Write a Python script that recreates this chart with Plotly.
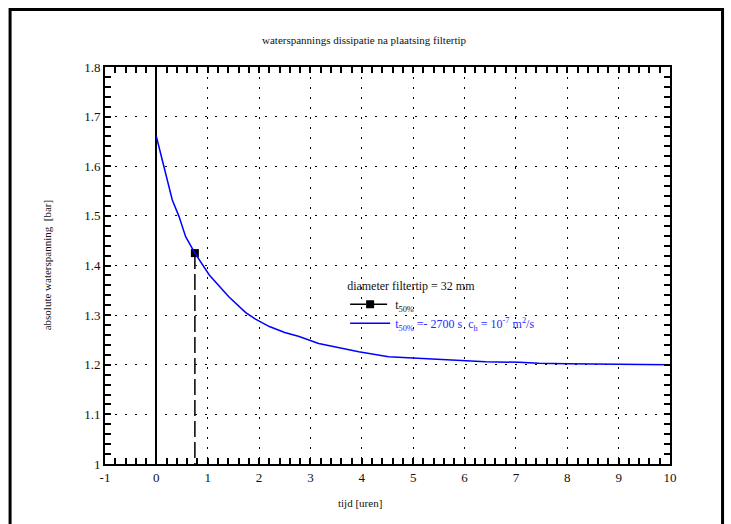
import plotly.graph_objects as go

# ---- data ----
t_hours = [0, 0.15, 0.31, 0.44, 0.57, 0.75, 1.03, 1.41, 1.74, 1.93, 2.2, 2.5, 2.78,
           3.16, 3.55, 3.94, 4.52, 5.24, 5.83, 6.41, 7.06, 7.45, 8.0, 9.13, 10]
pressure_bar = [1.66, 1.60, 1.532, 1.499, 1.458, 1.425, 1.381, 1.337, 1.305, 1.292,
                1.277, 1.265, 1.257, 1.243, 1.235, 1.226, 1.216, 1.212, 1.210, 1.206,
                1.205, 1.203, 1.202, 1.201, 1.200]
t50_hours = [0.75]
p50_bar = [1.425]
y_min, y_max = 1.0, 1.8
x_min, x_max = -1, 10
x_ticks = list(range(-1, 11))
x_tick_labels = [str(v) for v in x_ticks]  # plain hyphen minus
y_ticks = [1, 1.1, 1.2, 1.3, 1.4, 1.5, 1.6, 1.7, 1.8]
y_tick_labels = ["1", "1.1", "1.2", "1.3", "1.4", "1.5", "1.6", "1.7", "1.8"]

FONT = "Liberation Serif, Times New Roman, serif"
fig = go.Figure()

# dashed vertical drop line from t50 marker
fig.add_trace(go.Scatter(
    x=[t50_hours[0], t50_hours[0]], y=[p50_bar[0], y_min],
    mode="lines", line=dict(color="black", width=1.5, dash="16px,5px"),
    showlegend=False, hoverinfo="skip"))
fig.add_trace(go.Scatter(
    x=t50_hours, y=p50_bar, mode="lines+markers",
    line=dict(color="black", width=1.5, dash="16px,5px"),
    marker=dict(symbol="square", size=8, color="black"),
    name="t<sub>50%</sub>"))
fig.add_trace(go.Scatter(
    x=t_hours, y=pressure_bar, mode="lines",
    line=dict(color="#0000ff", width=1.5),
    name="<span style='color:#2a2aff'>t<sub>50%</sub> =- 2700 s  c<sub>h</sub> = 10<sup>-7</sup> m<sup>2</sup>/s</span>"))

axis_common = dict(
    showline=True, linecolor="black", linewidth=2, mirror="ticks",
    ticks="inside", ticklen=6, tickwidth=1.5, tickcolor="black",
    showgrid=True, gridcolor="black", gridwidth=1.2, griddash="2px,8px",
    tickfont=dict(family=FONT, size=13, color="#111"),
)
fig.update_xaxes(range=[x_min, x_max], tickmode="array", tickvals=x_ticks,
                 ticktext=x_tick_labels, zeroline=True,
                 zerolinecolor="black", zerolinewidth=1.5,
                 minor=dict(tickmode="linear", tick0=x_min, dtick=0.2, ticks="inside",
                            ticklen=6, tickcolor="black", tickwidth=1.5, showgrid=False),
                 **axis_common)
fig.update_yaxes(range=[y_min, y_max], tickmode="array", tickvals=y_ticks,
                 ticktext=y_tick_labels, zeroline=False,
                 minor=dict(tickmode="linear", tick0=y_min, dtick=0.02, ticks="inside",
                            ticklen=6, tickcolor="black", tickwidth=1.5, showgrid=False),
                 **axis_common)

fig.update_layout(
    width=731, height=524,
    margin=dict(l=105, r=61, t=67, b=60),
    paper_bgcolor="white", plot_bgcolor="white",
    font=dict(family=FONT, size=12, color="#111"),
    showlegend=True,
    legend=dict(x=0.425, y=0.478, xanchor="left", yanchor="top",
                bgcolor="rgba(0,0,0,0)", borderwidth=0,
                title=dict(text="diameter filtertip = 32 mm",
                           font=dict(family=FONT, size=12, color="#111")),
                font=dict(family=FONT, size=12, color="#111"),
                itemwidth=40, tracegroupgap=0),
    shapes=[dict(type="rect", xref="paper", yref="paper",
                 x0=-0.168, x1=1.093, y0=-0.2, y1=1.145,
                 line=dict(color="black", width=3), fillcolor="rgba(0,0,0,0)",
                 layer="above")],
    annotations=[
        dict(text="waterspannings dissipatie na plaatsing filtertip", xref="paper", yref="paper",
             x=0.46, y=1.068, showarrow=False, xanchor="center", yanchor="middle",
             font=dict(family=FONT, size=11, color="#111")),
        dict(text="tijd [uren]", xref="paper", yref="paper",
             x=0.451, y=-0.098, showarrow=False, xanchor="center", yanchor="middle",
             font=dict(family=FONT, size=11, color="#111")),
        dict(text="absolute waterspanning  [bar]", xref="paper", yref="paper",
             x=-0.103, y=0.5, showarrow=False, textangle=-90,
             xanchor="center", yanchor="middle",
             font=dict(family=FONT, size=11, color="#111")),
    ],
)

fig.write_html("out.html")
